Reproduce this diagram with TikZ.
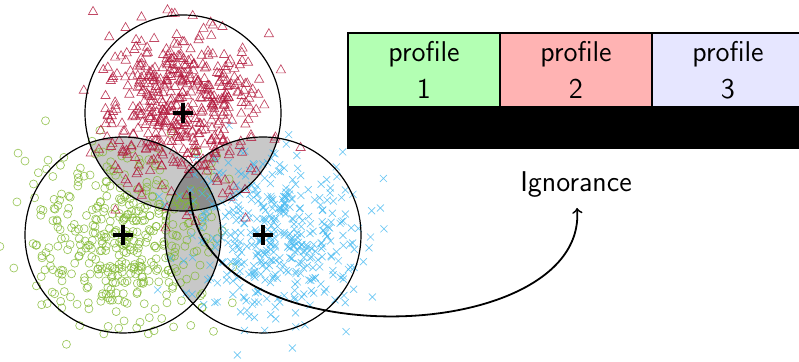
\documentclass[tikz,border=0pt]{standalone}
\usetikzlibrary{calc}

\definecolor{trired}{RGB}{178,25,60}
\definecolor{ringgreen}{RGB}{130,185,50}
\definecolor{crossblue}{RGB}{70,185,240}
\definecolor{pgreen}{RGB}{179,255,179}
\definecolor{pred}{RGB}{255,179,179}
\definecolor{pblue}{RGB}{230,230,255}
\definecolor{pairgray}{RGB}{200,200,200}
\definecolor{triplegray}{RGB}{140,140,140}

\tikzset{
  ring/.style={draw=black, line width=0.6pt},
  trimark/.style={draw=trired, line width=0.33pt, opacity=0.8},
  circmark/.style={draw=ringgreen, line width=0.33pt, opacity=0.8},
  crossmark/.style={draw=crossblue, line width=0.33pt, opacity=0.8},
  centermark/.style={line width=2pt, black},
  cell/.style={draw=black, line width=0.6pt, minimum width=76pt, minimum height=37pt,
    inner sep=0pt, align=center, font=\sffamily\fontsize{14.3}{18.5}\selectfont},
  labeltext/.style={font=\sffamily\fontsize{14.3}{16}\selectfont, inner sep=0pt},
}

\begin{document}
\begin{tikzpicture}[x=0.5pt, y=-0.5pt]
  \useasboundingbox (0,0) rectangle (799,362);

  % cluster centres
  \coordinate (cr) at (183,113);
  \coordinate (cg) at (123,235);
  \coordinate (cb) at (263,235);

  % pairwise overlaps
  \begin{scope}
    \clip (cr) circle[radius=49pt];
    \fill[pairgray] (cg) circle[radius=49pt];
    \fill[pairgray] (cb) circle[radius=49pt];
  \end{scope}
  \begin{scope}
    \clip (cg) circle[radius=49pt];
    \fill[pairgray] (cb) circle[radius=49pt];
  \end{scope}
  % triple overlap
  \begin{scope}
    \clip (cr) circle[radius=49pt];
    \clip (cg) circle[radius=49pt];
    \fill[triplegray] (cb) circle[radius=49pt];
  \end{scope}

  % scattered samples (approximately normal around each centre)
  \pgfmathsetseed{4217}
  \foreach \i in {1,...,420}{
    \pgfmathsetmacro{\px}{122+46*(rnd+rnd+rnd+rnd-2)*1.732}
    \pgfmathsetmacro{\py}{238+44*(rnd+rnd+rnd+rnd-2)*1.732}
    \draw[circmark] (\px,\py) circle[radius=4];
  }
  \foreach \i in {1,...,420}{
    \pgfmathsetmacro{\px}{272+44*(rnd+rnd+rnd+rnd-2)*1.732}
    \pgfmathsetmacro{\py}{238+40*(rnd+rnd+rnd+rnd-2)*1.732}
    \draw[crossmark] (\px,\py) +(-3.5,-3.5) -- +(3.5,3.5) +(-3.5,3.5) -- +(3.5,-3.5);
  }
  \foreach \i in {1,...,500}{
    \pgfmathsetmacro{\px}{182+40*(rnd+rnd+rnd+rnd-2)*1.732}
    \pgfmathsetmacro{\py}{110+40*(rnd+rnd+rnd+rnd-2)*1.732}
    \draw[trimark] (\px,\py) +(0,-4.5) -- +(-4.6,3.6) -- +(4.6,3.6) -- cycle;
  }

  % cluster boundaries
  \draw[ring] (cr) circle[radius=49pt];
  \draw[ring] (cg) circle[radius=49pt];
  \draw[ring] (cb) circle[radius=49pt];

  % cluster centres
  \foreach \c in {cr,cg,cb}{
    \draw[centermark] ($(\c)+(-10,0)$) -- ($(\c)+(10,0)$);
    \draw[centermark] ($(\c)+(0,-10)$) -- ($(\c)+(0,10)$);
  }

  % profile table
  \node[cell, fill=pgreen] (p1) at (424,70) {profile\\1};
  \node[cell, fill=pred]   (p2) at (576,70) {profile\\2};
  \node[cell, fill=pblue]  (p3) at (728,70) {profile\\3};
  \node[draw=black, fill=black, line width=0.6pt, minimum width=228pt, minimum height=20pt,
    inner sep=0pt, anchor=north west] (bar) at (p1.south west) {};

  % ignorance label and arrow
  \node[labeltext, anchor=base] (ign) at (576,191.7) {Ignorance};
  \coordinate (start) at (190,192);
  \coordinate (tip) at (577,208);
  \draw[->, line width=0.9pt] (start) .. controls (195,362) and (588,348) .. (tip);
\end{tikzpicture}
\end{document}
